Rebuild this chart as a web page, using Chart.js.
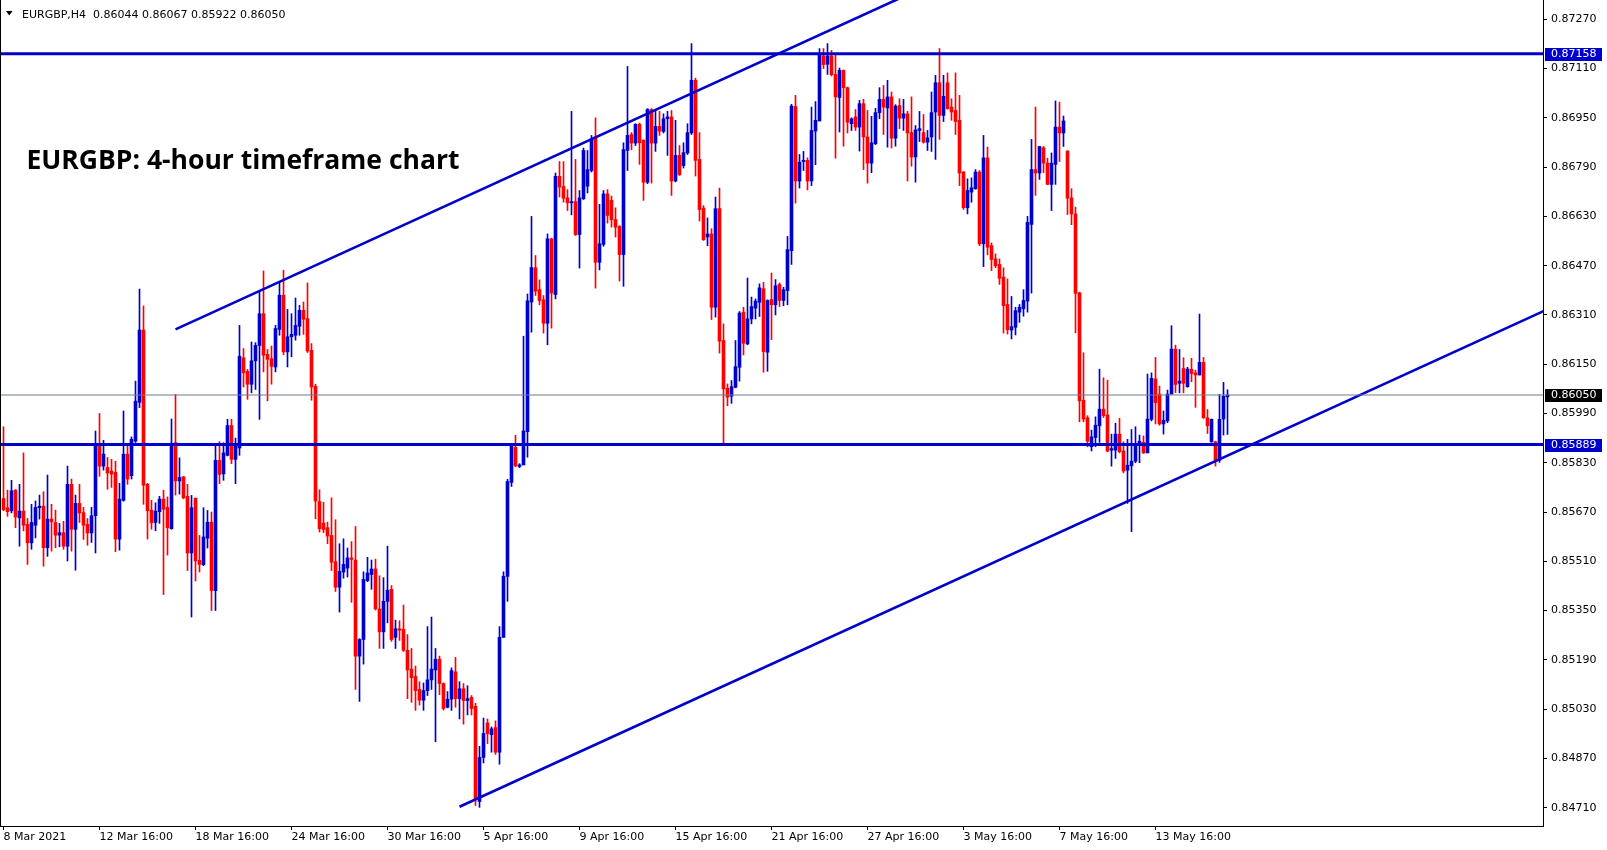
<!DOCTYPE html>
<html>
<head>
<meta charset="utf-8">
<title>EURGBP H4</title>
<script src="https://cdn.jsdelivr.net/npm/chart.js@4.4.1/dist/chart.umd.min.js"></script>
<style>
html,body{margin:0;padding:0;background:#ffffff;}
#wrap{position:relative;width:1607px;height:850px;}
</style>
</head>
<body>
<div id="wrap"><canvas id="c"></canvas></div>
<script>
// ---- data (EURGBP H4, one value per 4-hour bar) ----
const opens = [
0.85714,0.85684,0.85674,0.85741,0.85651,0.85673,0.85630,0.85570,0.85627,0.85684,
0.85689,0.85554,0.85647,0.85636,0.85595,0.85603,0.85559,0.85760,0.85614,0.85698,
0.85668,0.85630,0.85602,0.85658,0.85885,0.85819,0.85815,0.85803,0.85799,0.85582,
0.85708,0.85858,0.85788,0.85900,0.86026,0.86261,0.85760,0.85676,0.85636,0.85671,
0.85712,0.85685,0.85616,0.85895,0.85771,
0.85784,0.85721,0.85537,0.85715,0.85513,
0.85499,0.85585,0.85637,0.85415,0.85838,0.85794,0.85854,0.85951,0.85841,0.85878,
0.86171,0.86127,0.86085,0.86161,0.86211,0.86314,0.86182,0.86168,0.86141,0.86263,
0.86374,0.86190,0.86239,0.86244,0.86273,0.86325,0.86298,0.86195,0.86078,0.85704,
0.85634,0.85619,0.85594,0.85509,0.85426,0.85475,0.85488,0.85521,
0.85514,0.85202,0.85256,0.85447,0.85467,0.85485,0.85355,0.85281,0.85380,0.85419,0.85263,0.85291,
0.85289,0.85221,0.85160,0.85136,0.85094,0.85059,0.85090,0.85125,0.85157,0.85192,
0.85113,0.85036,0.85062,0.85151,0.85064,0.85096,0.85058,0.85068,0.85039,0.84730,
0.84873,0.84985,0.84947,0.84970,0.84890,0.85263,0.85461,0.85766,0.85880,0.85818,0.85823,0.85931,0.86352,
0.86463,0.86392,0.86359,0.86283,0.86557,0.86376,0.86760,0.86727,0.86690,0.86674,
0.86678,0.86571,0.86687,0.86728,0.86779,0.86888,0.86481,0.86539,0.86703,0.86682,
0.86620,0.86597,0.86506,0.86844,0.86896,0.86868,0.86929,0.86877,0.86741,0.86977,
0.86868,0.86922,0.86906,0.86947,0.86953,0.86745,0.86828,0.86795,0.86836,0.86901,
0.87072,0.86815,0.86657,0.86563,0.86573,
0.86335,0.86655,0.86227,0.86072,0.86046,0.86075,0.86140,0.86319,0.86216,0.86297,
0.86332,0.86351,0.86395,0.86189,0.86360,0.86343,0.86409,0.86357,0.86389,0.86519,
0.86987,0.86745,0.86808,0.86812,0.86745,0.86907,0.86940,0.87151,0.87124,0.87151,
0.87091,0.87016,0.87104,0.87048,0.86931,0.86953,0.86920,0.86996,0.86888,0.86803,
0.86866,0.86967,0.87010,0.86982,0.87018,
0.86884,0.86990,0.86949,0.86963,0.86902,0.86823,0.86909,0.86902,0.86871,0.86888,
0.86969,0.87064,0.86958,0.87064,0.86985,0.86974,0.86942,0.86774,0.86658,0.86709,
0.86720,0.86774,0.86541,0.86820,0.86535,0.86492,0.86474,0.86433,0.86344,0.86261,
0.86270,0.86319,0.86330,0.86355,0.86604,0.86782,0.86771,0.86853,0.86803,0.86734,
0.86799,0.86920,0.86901,0.86842,0.86690,
0.86638,0.86382,0.86033,0.85976,0.85882,0.85912,0.85950,0.86004,0.85985,0.85871,
0.85871,0.85923,0.85868,0.85806,0.85820,0.85835,0.85887,0.85896,0.85862,0.85971,
0.86102,0.86053,0.85956,0.85966,0.86053,0.86199,0.86088,0.86136,0.86077,0.86134,
0.86122,0.86115,0.86156,0.85976,0.85898,0.85898,0.85838,0.85972,0.86044
];
const highs = [
0.85947,0.85741,0.85773,0.85743,0.85760,0.85862,0.85649,0.85695,0.85706,0.85725,
0.85736,0.85790,0.85695,0.85676,0.85633,0.85640,0.85819,0.85777,0.85725,0.85760,
0.85685,0.85649,0.85685,0.85933,0.85990,0.85903,0.85847,0.85841,0.85835,0.85763,
0.85998,0.85893,0.85914,0.86095,0.86394,0.86339,0.85763,0.85708,0.85700,0.85721,
0.85741,0.85719,0.85972,0.86052,0.85846,
0.85786,0.85760,0.85724,0.85715,0.85594,
0.85684,0.85675,0.85670,0.85886,0.85899,0.85895,0.85971,0.85971,0.85910,0.86276,
0.86201,0.86133,0.86222,0.86220,0.86385,0.86453,0.86198,0.86209,0.86276,0.86417,
0.86455,0.86328,0.86314,0.86365,0.86341,0.86352,0.86414,0.86217,0.86085,0.85742,
0.85702,0.85637,0.85716,0.85645,0.85567,0.85583,0.85553,0.85574,
0.85623,0.85259,0.85476,0.85523,0.85514,0.85517,0.85463,0.85457,0.85559,0.85431,0.85319,0.85317,
0.85368,0.85272,0.85227,0.85170,0.85119,0.85115,0.85298,0.85329,0.85227,0.85202,
0.85115,0.85087,0.85164,0.85198,0.85119,0.85113,0.85106,0.85074,0.85049,0.84909,
0.85001,0.84998,0.84972,0.84992,0.85298,0.85476,0.85776,0.85891,0.85919,0.85827,0.86241,0.86378,0.86630,
0.86503,0.86424,0.86373,0.86573,0.86559,0.86771,0.86808,0.86808,0.86717,0.86971,
0.86815,0.86714,0.86852,0.86844,0.86893,0.86950,0.86669,0.86714,0.86717,0.86696,
0.86658,0.86600,0.86869,0.87117,0.86902,0.86931,0.86933,0.86879,0.86980,0.86980,
0.86971,0.86971,0.86963,0.86971,0.86974,0.86942,0.86860,0.86869,0.86931,0.87191,
0.87079,0.86902,0.86665,0.86625,0.86590,
0.86693,0.86722,0.86281,0.86086,0.86097,0.86227,0.86321,0.86335,0.86430,0.86368,
0.86362,0.86411,0.86416,0.86359,0.86446,0.86425,0.86414,0.86400,0.86565,0.86994,
0.87023,0.86831,0.86841,0.86820,0.86985,0.87003,0.87175,0.87175,0.87191,0.87169,
0.87153,0.87112,0.87106,0.87050,0.86950,0.86977,0.87007,0.87010,0.86974,0.86955,
0.86981,0.87048,0.87055,0.87072,0.87034,
0.86993,0.87012,0.87010,0.86971,0.87018,0.86925,0.86971,0.86961,0.86909,0.87034,
0.87088,0.87175,0.87088,0.87096,0.87012,0.87096,0.87023,0.86776,0.86752,0.86755,
0.86782,0.86779,0.86893,0.86855,0.86544,0.86508,0.86492,0.86463,0.86427,0.86370,
0.86335,0.86344,0.86392,0.86630,0.86880,0.86985,0.86857,0.86857,0.86819,0.86836,
0.87005,0.87001,0.86956,0.86844,0.86720,
0.86660,0.86384,0.86187,0.85983,0.85936,0.85979,0.86134,0.86106,0.86098,0.85923,
0.85958,0.85974,0.85898,0.85906,0.85938,0.85947,0.85920,0.85917,0.86118,0.86122,
0.86172,0.86079,0.85998,0.86066,0.86275,0.86212,0.86198,0.86171,0.86140,0.86169,
0.86131,0.86313,0.86172,0.86003,0.85972,0.85900,0.86052,0.86091,0.86067
];
const lows = [
0.85674,0.85656,0.85667,0.85619,0.85559,0.85609,0.85500,0.85549,0.85586,0.85647,
0.85494,0.85526,0.85543,0.85554,0.85557,0.85549,0.85511,0.85543,0.85481,0.85636,
0.85581,0.85562,0.85571,0.85537,0.85786,0.85806,0.85744,0.85750,0.85541,0.85546,
0.85705,0.85760,0.85777,0.85896,0.86009,0.85695,0.85582,0.85614,0.85609,0.85633,
0.85402,0.85530,0.85614,0.85725,0.85728,
0.85713,0.85480,0.85329,0.85446,0.85475,
0.85496,0.85553,0.85350,0.85350,0.85762,0.85773,0.85852,0.85827,0.85762,0.85854,
0.86076,0.86036,0.86057,0.86068,0.85971,0.86125,0.86031,0.86085,0.86125,0.86244,
0.86181,0.86141,0.86174,0.86228,0.86244,0.86247,0.86188,0.86033,0.85648,0.85605,
0.85603,0.85567,0.85480,0.85412,0.85345,0.85455,0.85459,0.85377,
0.85094,0.85055,0.85176,0.85444,0.85419,0.85352,0.85227,0.85227,0.85310,0.85250,0.85227,0.85253,
0.85217,0.85064,0.85052,0.85026,0.85043,0.85026,0.85074,0.85094,0.84924,0.85077,
0.85027,0.85034,0.85026,0.85036,0.84998,0.84981,0.85011,0.85011,0.84717,0.84711,
0.84855,0.84918,0.84890,0.84883,0.84851,0.85263,0.85380,0.85753,0.85817,0.85814,0.85823,0.85848,0.86254,
0.86373,0.86343,0.86251,0.86213,0.86267,0.86362,0.86693,0.86676,0.86649,0.86635,
0.86568,0.86462,0.86685,0.86706,0.86774,0.86397,0.86456,0.86533,0.86608,0.86595,
0.86563,0.86420,0.86403,0.86779,0.86846,0.86860,0.86799,0.86682,0.86736,0.86738,
0.86841,0.86893,0.86901,0.86828,0.86698,0.86742,0.86763,0.86787,0.86831,0.86896,
0.86761,0.86615,0.86552,0.86535,0.86295,
0.86303,0.86186,0.85891,0.86015,0.86023,0.86073,0.86095,0.86180,0.86213,0.86281,
0.86297,0.86305,0.86124,0.86127,0.86230,0.86310,0.86337,0.86340,0.86343,0.86474,
0.86673,0.86722,0.86779,0.86716,0.86730,0.86798,0.86940,0.87110,0.87091,0.87086,
0.86819,0.86904,0.86858,0.86901,0.86909,0.86909,0.86842,0.86782,0.86738,0.86772,
0.86863,0.86947,0.86896,0.86855,0.86852,
0.86858,0.86915,0.86909,0.86745,0.86793,0.86741,0.86873,0.86868,0.86844,0.86841,
0.86815,0.86880,0.86938,0.86978,0.86942,0.86896,0.86730,0.86653,0.86638,0.86676,
0.86718,0.86535,0.86467,0.86505,0.86454,0.86463,0.86409,0.86251,0.86248,0.86232,
0.86245,0.86286,0.86306,0.86319,0.86381,0.86698,0.86750,0.86772,0.86733,0.86649,
0.86734,0.86808,0.86857,0.86636,0.86603,
0.86252,0.85963,0.85963,0.85882,0.85868,0.85882,0.85896,0.85977,0.85866,0.85819,
0.85844,0.85862,0.85797,0.85698,0.85606,0.85830,0.85830,0.85860,0.85862,0.85966,
0.85956,0.85952,0.85923,0.85960,0.86053,0.86058,0.86057,0.86057,0.86075,0.86093,
0.86010,0.86115,0.85974,0.85925,0.85896,0.85819,0.85831,0.85920,0.85922
];
const closes = [
0.85678,0.85671,0.85739,0.85654,0.85673,0.85627,0.85570,0.85636,0.85685,0.85689,
0.85554,0.85647,0.85638,0.85595,0.85603,0.85559,0.85760,0.85614,0.85698,0.85667,
0.85627,0.85602,0.85658,0.85885,0.85819,0.85858,0.85797,0.85793,0.85582,0.85712,
0.85858,0.85777,0.85906,0.86030,0.86261,0.85757,0.85674,0.85635,0.85673,0.85712,
0.85679,0.85619,0.85889,0.85771,0.85782,
0.85716,0.85537,0.85684,0.85511,0.85500,
0.85589,0.85637,0.85415,0.85838,0.85792,0.85862,0.85951,0.85841,0.85892,0.86176,
0.86122,0.86085,0.86161,0.86211,0.86314,0.86179,0.86166,0.86143,0.86266,0.86374,
0.86190,0.86239,0.86247,0.86276,0.86325,0.86296,0.86193,0.86076,0.85706,0.85616,
0.85613,0.85592,0.85507,0.85426,0.85477,0.85500,0.85521,0.85516,
0.85202,0.85256,0.85451,0.85472,0.85485,0.85355,0.85281,0.85380,0.85416,0.85256,0.85291,0.85286,
0.85221,0.85157,0.85132,0.85090,0.85059,0.85090,0.85125,0.85160,0.85192,0.85113,
0.85032,0.85062,0.85155,0.85064,0.85096,0.85058,0.85064,0.85032,0.84737,0.84873,
0.84951,0.84950,0.84966,0.84890,0.85263,0.85461,0.85769,0.85884,0.85820,0.85823,0.85933,0.86356,0.86464,
0.86387,0.86357,0.86283,0.86557,0.86381,0.86760,0.86725,0.86689,0.86674,0.86678,
0.86571,0.86690,0.86844,0.86782,0.86877,0.86481,0.86541,0.86703,0.86633,0.86619,
0.86595,0.86506,0.86847,0.86893,0.86868,0.86929,0.86869,0.86741,0.86977,0.86868,
0.86922,0.86907,0.86947,0.86953,0.86745,0.86828,0.86765,0.86837,0.86902,0.87072,
0.86812,0.86652,0.86554,0.86573,0.86335,
0.86655,0.86225,0.86070,0.86043,0.86077,0.86142,0.86316,0.86218,0.86297,0.86337,
0.86355,0.86398,0.86191,0.86357,0.86343,0.86405,0.86357,0.86392,0.86522,0.86988,
0.86745,0.86806,0.86812,0.86745,0.86909,0.86942,0.87158,0.87123,0.87151,0.87090,
0.87018,0.87104,0.87048,0.86936,0.86947,0.86920,0.86996,0.86888,0.86803,0.86869,
0.86967,0.87010,0.86985,0.87018,0.86884,
0.86988,0.86949,0.86963,0.86901,0.86823,0.86911,0.86915,0.86871,0.86885,0.86967,
0.87064,0.86958,0.87020,0.86980,0.86969,0.86938,0.86771,0.86658,0.86714,0.86723,
0.86774,0.86541,0.86820,0.86530,0.86490,0.86470,0.86429,0.86340,0.86262,0.86272,
0.86324,0.86335,0.86357,0.86611,0.86782,0.86771,0.86857,0.86803,0.86734,0.86803,
0.86920,0.86901,0.86940,0.86689,0.86638,
0.86380,0.86031,0.85972,0.85900,0.85914,0.85952,0.86004,0.85983,0.85868,0.85876,
0.85923,0.85866,0.85803,0.85822,0.85835,0.85887,0.85900,0.85862,0.85972,0.86104,
0.86025,0.85956,0.85968,0.86053,0.86199,0.86084,0.86095,0.86088,0.86134,0.86120,
0.86115,0.86156,0.85976,0.85950,0.85971,0.85838,0.85971,0.86046,0.86050
];

// time-axis labels, one every 24 bars
const xTickLabels = ["8 Mar 2021","12 Mar 16:00","18 Mar 16:00","24 Mar 16:00","30 Mar 16:00",
  "5 Apr 16:00","9 Apr 16:00","15 Apr 16:00","21 Apr 16:00","27 Apr 16:00",
  "3 May 16:00","7 May 16:00","13 May 16:00"];
const xTickBars = [0,24,48,72,96,120,144,168,192,216,240,264,288];
const yTickValues = [0.84710,0.84870,0.85030,0.85190,0.85350,0.85510,0.85670,0.85830,
  0.85990,0.86150,0.86310,0.86470,0.86630,0.86790,0.86950,0.87110,0.87270];

// drawn objects
const resistanceLevel = 0.87158;
const supportLevel = 0.85889;
const bidPrice = 0.86050;
const upperTrendBars = [43, 240];
const upperTrendPrices = [0.86263, 0.87433];
const lowerTrendBars = [114, 390];
const lowerTrendPrices = [0.84713, 0.86352];
const headerSymbol = "EURGBP,H4";
const headerOHLC = [0.86044, 0.86067, 0.85922, 0.86050];
const titleText = "EURGBP: 4-hour timeframe chart";

// ---- styling ----
const BULL = '#0000CD', BEAR = '#FF0000', LINE = '#0000CD', BID = '#6a7a8c';
const AXFONT = {family: 'DejaVu Sans', size: 11};
const X_MIN = -0.625, X_MAX = 384.875;
const Y_MIN = 0.846504, Y_MAX = 0.873327;
const TITLE_WIDTH = 433;

const n = opens.length;
const idx = Array.from({length: n}, (_, i) => i);
const candleColors = idx.map(i => closes[i] >= opens[i] ? BULL : BEAR);
const wickData = idx.map(i => ({x: i, y: [lows[i], highs[i]]}));
const bodyData = idx.map(i => ({x: i, y: [opens[i], closes[i]]}));

function hLine(v) { return [{x: X_MIN, y: v}, {x: X_MAX, y: v}]; }
function segment(bars, prices) { return bars.map((b, k) => ({x: b, y: prices[k]})); }
function lineDs(data, color, width) {
  return {type: 'line', data, borderColor: color, borderWidth: width, pointRadius: 0,
    fill: false, tension: 0, clip: 0, order: 0};
}

const overlay = {
  id: 'overlay',
  afterDraw(chart) {
    const {ctx, chartArea: a, scales: {y}} = chart;
    ctx.save();
    // left frame line
    ctx.fillStyle = '#000';
    ctx.fillRect(0, 0, 1, a.bottom + 1);
    // price tags on the right axis
    ctx.font = '11px "DejaVu Sans"';
    ctx.textAlign = 'left';
    ctx.textBaseline = 'middle';
    [[resistanceLevel, LINE], [bidPrice, '#000000'], [supportLevel, LINE]].forEach(([v, bg]) => {
      const py = y.getPixelForValue(v);
      ctx.fillStyle = bg;
      ctx.fillRect(a.right + 2, Math.round(py) - 6, 57, 13);
      ctx.fillStyle = '#ffffff';
      ctx.fillText(v.toFixed(5), a.right + 8, py + 0.5);
    });
    // header line
    ctx.fillStyle = '#000';
    ctx.beginPath();
    ctx.moveTo(6, 11); ctx.lineTo(12.5, 11); ctx.lineTo(9.25, 15.5); ctx.closePath();
    ctx.fill();
    ctx.textBaseline = 'alphabetic';
    ctx.fillText(headerSymbol + '  ' + headerOHLC.map(v => v.toFixed(5)).join(' '), 22, 18);
    // title, sized to the reference width
    ctx.font = 'bold 100px "Open Sans"';
    const fs = 100 * TITLE_WIDTH / ctx.measureText(titleText).width;
    ctx.font = 'bold ' + fs.toFixed(2) + 'px "Open Sans"';
    ctx.fillText(titleText, 26.5, 168.5);
    ctx.restore();
  }
};

new Chart(document.getElementById('c'), {
  type: 'bar',
  data: {
    datasets: [
      lineDs(hLine(resistanceLevel), LINE, 3),
      lineDs(hLine(supportLevel), LINE, 3),
      lineDs(hLine(bidPrice), BID, 1),
      lineDs(segment(upperTrendBars, upperTrendPrices), LINE, 2.6),
      lineDs(segment(lowerTrendBars, lowerTrendPrices), LINE, 2.6),
      {type: 'bar', data: bodyData, backgroundColor: candleColors, barThickness: 3,
        minBarLength: 1, borderWidth: 0, grouped: false, order: 1},
      {type: 'bar', data: wickData, backgroundColor: candleColors, barThickness: 1,
        borderWidth: 0, grouped: false, order: 2}
    ]
  },
  options: {
    responsive: true,
    maintainAspectRatio: false,
    devicePixelRatio: 1,
    animation: false,
    events: [],
    layout: {padding: {left: 1, top: 0, right: 0, bottom: 0}},
    plugins: {legend: {display: false}, tooltip: {enabled: false}, title: {display: false}},
    scales: {
      x: {
        type: 'linear', min: X_MIN, max: X_MAX, offset: false,
        grid: {display: true, offset: false, drawOnChartArea: false, drawTicks: true, tickLength: 4, color: '#000'},
        border: {display: true, color: '#000', width: 1},
        ticks: {autoSkip: false, maxRotation: 0, minRotation: 0, align: 'start', padding: 1,
          color: '#000', font: AXFONT, callback: (v, i) => xTickLabels[i]},
        afterBuildTicks: s => { s.ticks = xTickBars.map(v => ({value: v})); },
        afterFit: s => { s.height = 24; s.paddingLeft = 0; s.paddingRight = 0; }
      },
      y: {
        type: 'linear', position: 'right', min: Y_MIN, max: Y_MAX, beginAtZero: false,
        grid: {display: true, drawOnChartArea: false, drawTicks: true, tickLength: 4, color: '#000'},
        border: {display: true, color: '#000', width: 1},
        ticks: {padding: 4, color: '#000', font: AXFONT, callback: v => Number(v).toFixed(5)},
        afterBuildTicks: s => { s.ticks = yTickValues.map(v => ({value: v})); },
        afterFit: s => { s.width = 64; s.paddingTop = 0; s.paddingBottom = 0; }
      }
    }
  },
  plugins: [overlay]
});
</script>
</body>
</html>
